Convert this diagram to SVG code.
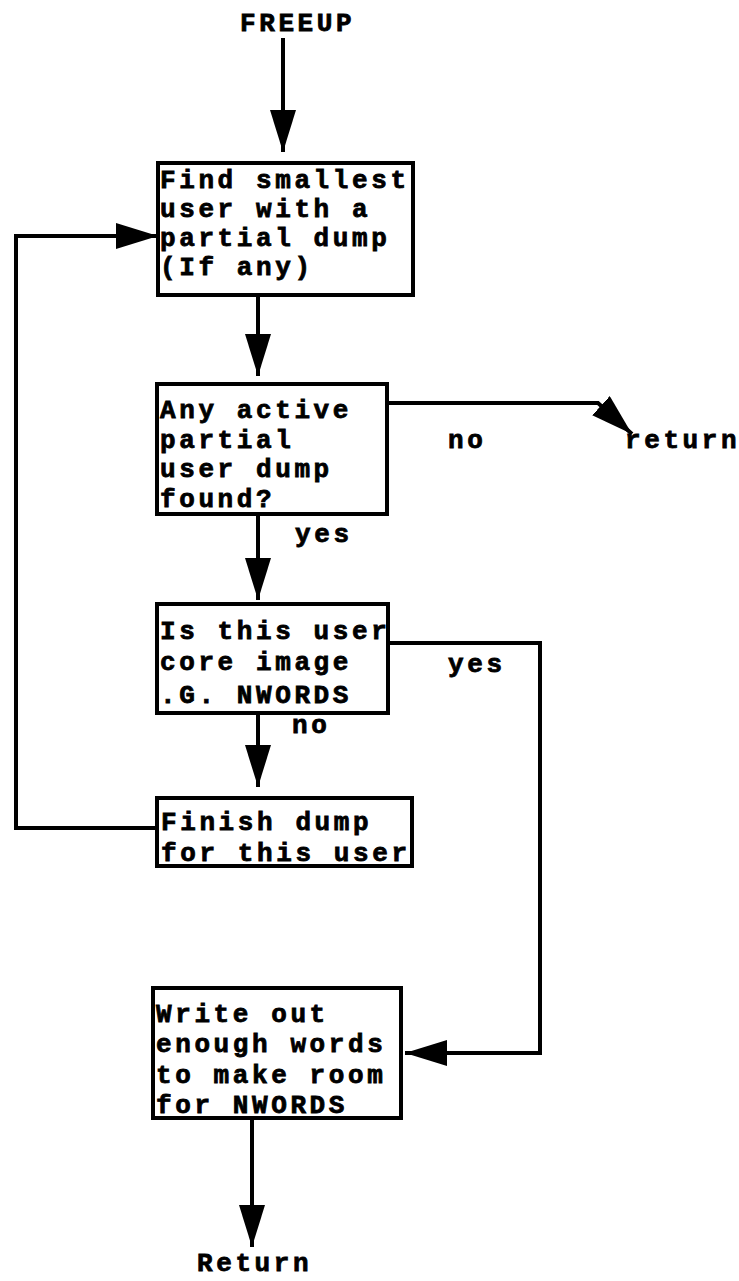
<svg xmlns="http://www.w3.org/2000/svg" width="739" height="1281" viewBox="0 0 739 1281">
<style>
.box{fill:#fff;stroke:#000;stroke-width:4}
.t{font-family:"Liberation Mono","DejaVu Sans Mono",monospace;font-weight:bold;font-size:26px;letter-spacing:3.6px;fill:#000;stroke:#000;stroke-width:0.8px}
.c{fill:none;stroke:#000;stroke-width:4;stroke-linejoin:miter}
</style>
<defs>
<marker id="ah" viewBox="0 0 42 26" markerWidth="42" markerHeight="26" refX="42" refY="13" orient="auto" markerUnits="userSpaceOnUse">
<path d="M0,0 L42,13 L0,26 Z" fill="#000"/>
</marker>
</defs>
<rect width="739" height="1281" fill="#fff"/>
<g id="connectors">
<path class="c" d="M283,38 V152" marker-end="url(#ah)"/>
<path class="c" d="M258,295 V376" marker-end="url(#ah)"/>
<path class="c" d="M387,403 H598 L632,434" marker-end="url(#ah)"/>
<path class="c" d="M258,514 V600" marker-end="url(#ah)"/>
<path class="c" d="M388,643 H540 V1053 H405" marker-end="url(#ah)"/>
<path class="c" d="M258,713 V787" marker-end="url(#ah)"/>
<path class="c" d="M158,828 H16 V236 H158" marker-end="url(#ah)"/>
<path class="c" d="M252,1118 V1247" marker-end="url(#ah)"/>
<text class="t" x="448" y="448">no</text>
<text class="t" x="295" y="542">yes</text>
<text class="t" x="448" y="672">yes</text>
<text class="t" x="292" y="733">no</text>
</g>
<g id="start"><text class="t" x="240" y="31">FREEUP</text></g>
<g id="find">
<rect class="box" x="158" y="163" width="255" height="132"/>
<text class="t" x="160" y="188">Find smallest</text>
<text class="t" x="160" y="217">user with a</text>
<text class="t" x="160" y="246">partial dump</text>
<text class="t" x="160" y="275">(If any)</text>
</g>
<g id="anyactive">
<rect class="box" x="157" y="384" width="230" height="130"/>
<text class="t" x="160" y="418">Any active</text>
<text class="t" x="160" y="448">partial</text>
<text class="t" x="160" y="477">user dump</text>
<text class="t" x="160" y="507">found?</text>
</g>
<g id="return1"><text class="t" x="625" y="448">return</text></g>
<g id="isthis">
<rect class="box" x="157" y="604" width="231" height="109"/>
<text class="t" x="160" y="639">Is this user</text>
<text class="t" x="160" y="670">core image</text>
<text class="t" x="160" y="703">.G. NWORDS</text>
</g>
<g id="finish">
<rect class="box" x="157" y="798" width="255" height="68"/>
<text class="t" x="161" y="830">Finish dump</text>
<text class="t" x="161" y="861">for this user</text>
</g>
<g id="write">
<rect class="box" x="153" y="988" width="248" height="130"/>
<text class="t" x="156" y="1022">Write out</text>
<text class="t" x="156" y="1052">enough words</text>
<text class="t" x="156" y="1083">to make room</text>
<text class="t" x="156" y="1113">for NWORDS</text>
</g>
<g id="return2"><text class="t" x="197" y="1271">Return</text></g>
</svg>
